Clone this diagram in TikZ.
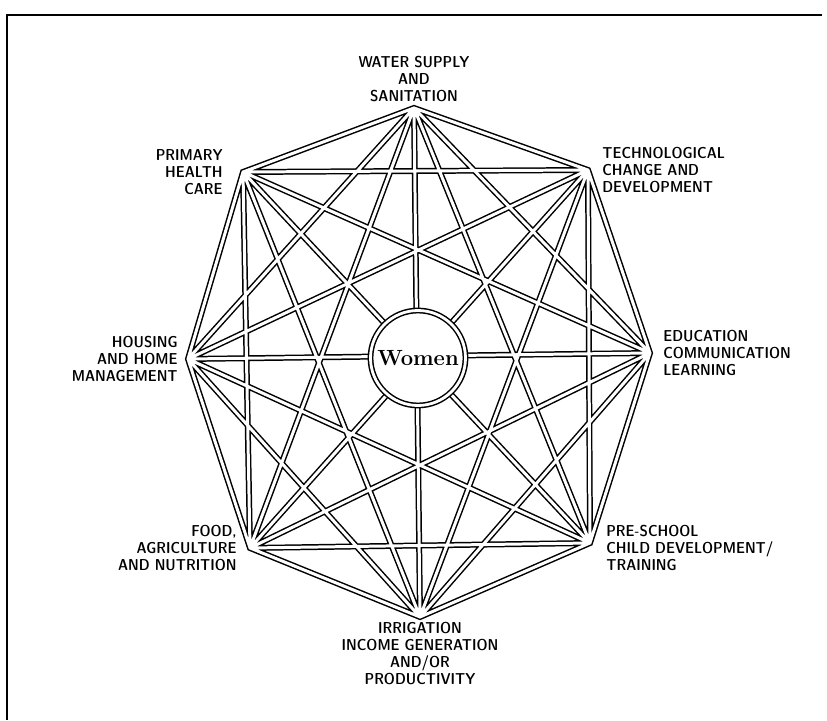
\documentclass[tikz,border=0pt]{standalone}
\usetikzlibrary{positioning}

\begin{document}
\begin{tikzpicture}[
  topic/.style={font=\fontfamily{lmss}\fontseries{sbc}\fontsize{9}{9.7}\selectfont, inner sep=0pt},
  beam/.style={draw, line width=0.85pt, double=white, double distance=1.7pt},
  hub/.style={circle, draw, line width=0.85pt, double=white, double distance=1.6pt,
              fill=white, minimum size=1.9cm, inner sep=0pt,
              font=\bfseries\fontsize{12.5}{14}\selectfont},
  frame/.style={draw, line width=1.1pt},
]
\useasboundingbox (0,0) rectangle (16.54,14.4);

% corners of the octagon
\coordinate (water)  at (8.28,12.24);
\coordinate (tech)   at (11.76,11.00);
\coordinate (edu)    at (13.00,7.34);
\coordinate (pre)    at (11.80,3.54);
\coordinate (irr)    at (8.40,2.06);
\coordinate (food)   at (5.00,3.44);
\coordinate (house)  at (3.76,7.22);
\coordinate (health) at (4.86,10.96);

% frame
\coordinate (fbl) at (0.14,0);
\coordinate (ftr) at (16.44,14.1);
\draw[frame] (fbl) |- (ftr);

% every corner joined to every other one
\draw[beam] (water) -- (tech) -- (edu) -- (pre) -- (irr) -- (food) -- (house) -- (health) -- cycle
  (water) -- (edu) (water) -- (pre) (water) -- (irr) (water) -- (food) (water) -- (house)
  (tech) -- (pre) (tech) -- (irr) (tech) -- (food) (tech) -- (house) (tech) -- (health)
  (edu) -- (irr) (edu) -- (food) (edu) -- (house) (edu) -- (health)
  (pre) -- (food) (pre) -- (house) (pre) -- (health)
  (irr) -- (house) (irr) -- (health)
  (food) -- (health);

\node[hub] (women) at (8.36,7.24) {Women};

\node[topic, align=center, above=0.12cm of water] (waterl)
    {WATER SUPPLY \\ AND \\ SANITATION};
\node[topic, align=left, right=0.28cm of tech] (techl)
    {TECHNOLOGICAL \\ CHANGE AND \\ DEVELOPMENT};
\node[topic, align=left, right=0.26cm of edu] (edul)
    {EDUCATION \\ COMMUNICATION \\ LEARNING};
\node[topic, align=left, right=0.32cm of pre, yshift=-0.1cm] (prel)
    {PRE-SCHOOL \\ CHILD DEVELOPMENT/ \\ TRAINING};
\node[topic, align=center, below=0.1cm of irr] (irrl)
    {IRRIGATION \\ INCOME GENERATION \\ AND/OR \\ PRODUCTIVITY};
\node[topic, align=right, left=0.26cm of food] (foodl)
    {FOOD, \\ AGRICULTURE \\ AND NUTRITION};
\node[topic, align=right, left=0.2cm of house] (housel)
    {HOUSING \\ AND HOME \\ MANAGEMENT};
\node[topic, align=right, left=0.4cm of health] (healthl)
    {PRIMARY \\ HEALTH \\ CARE};

\end{tikzpicture}
\end{document}
